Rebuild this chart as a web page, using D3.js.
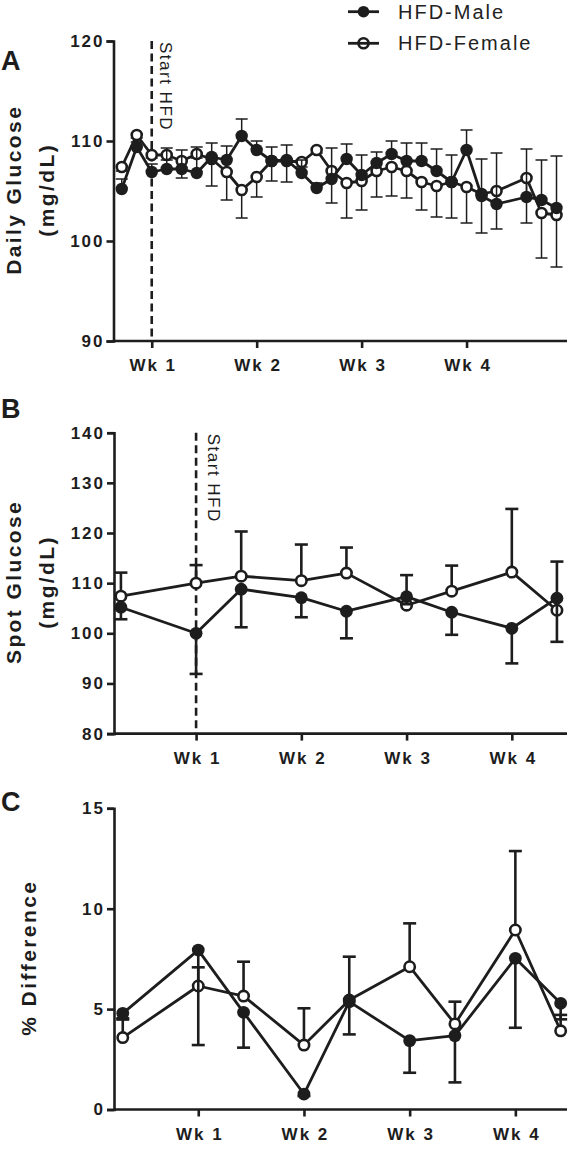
<!DOCTYPE html>
<html>
<head>
<meta charset="utf-8">
<script src="https://cdn.jsdelivr.net/npm/d3@7"></script>
<style>
html,body{margin:0;padding:0;background:#fff;}
svg{display:block;font-family:"Liberation Sans",Arial,Helvetica,sans-serif;}
</style>
</head>
<body>
<div id="chart"></div>
<script>
// ---------- DATA ----------
const weekLabels = ["Wk 1", "Wk 2", "Wk 3", "Wk 4"];
const weekDays = [0, 7, 14, 21];
const seriesNames = ["HFD-Male", "HFD-Female"];

// Panel A: daily glucose (mg/dL), day relative to start of HFD
const dailyDays = [-2,-1,0,1,2,3,4,5,6,7,8,9,10,11,12,13,14,15,16,17,18,19,20,21,22,23,25,26,27];
const maleDaily = [105.2,109.4,106.9,107.2,107.2,106.8,108.4,108.1,110.5,109.1,108.0,108.1,106.8,105.3,106.2,108.2,106.6,107.8,108.7,108.0,108.0,107.0,105.9,109.1,104.5,103.7,104.4,104.1,103.3];
const maleDailyErr = [1.0,0.5,0.8,2.1,1.9,2.6,1.4,1.4,1.7,0.9,1.4,1.5,1.3,0.5,3.1,1.5,2.0,1.1,1.3,1.8,1.8,2.2,2.7,2.0,3.7,5.1,4.8,4.0,5.2];
const femaleDaily = [107.4,110.6,108.6,108.6,108.0,108.7,108.2,106.9,105.1,106.4,108.0,108.0,107.9,109.1,107.0,105.8,106.0,107.0,107.4,107.0,105.9,105.5,105.9,105.4,104.7,105.0,106.3,102.8,102.6];
const femaleDailyErr = [0.4,0.3,0.3,0.5,1.7,0.4,2.7,2.8,2.8,2.0,2.0,2.1,0.5,0.3,3.2,3.5,2.9,2.6,2.9,2.7,2.8,3.1,3.6,3.6,3.9,3.8,4.5,4.5,5.2];

// Panel B: spot glucose (mg/dL)
const spotDays = [-5,0,3,7,10,14,17,21,24];
const maleSpot = [105.2,100.0,108.8,107.1,104.4,107.3,104.2,101.0,107.0];
const maleSpotErr = [2.4,8.1,7.6,3.9,5.4,1.5,4.5,7.0,8.7];
const femaleSpot = [107.4,110.0,111.4,110.5,112.0,105.6,108.4,112.2,104.6];
const femaleSpotErr = [4.7,3.6,8.9,7.2,5.1,6.0,5.1,12.6,9.7];

// Panel C: % difference
const maleDiff = [4.79,7.94,4.84,0.77,5.37,3.43,3.68,7.53,5.29];
const maleDiffErr = [0.25,4.73,1.76,0.1,1.63,1.6,2.33,3.46,0.8];
const femaleDiff = [3.58,6.15,5.65,3.21,5.45,7.11,4.26,8.94,3.92];
const femaleDiffErr = [0.9,0.93,1.71,1.83,2.16,2.16,1.11,3.93,0.79];

const yTicksA = [90,100,110,120];
const yTicksB = [80,90,100,110,120,130,140];
const yTicksC = [0,5,10,15];

// ---------- DRAW ----------
const W = 570, H = 1149;
const ink = "#1d1d1d";
const svg = d3.select("#chart").append("svg").attr("width", W).attr("height", H);

function panel(cfg) {
  const x = d3.scaleLinear().domain(cfg.xDomain).range(cfg.xRange);
  const y = d3.scaleLinear().domain(cfg.yDomain).range(cfg.yRange);
  const g = svg.append("g");
  const LS = 2;

  // dashed start line
  if (cfg.startLine) {
    g.append("line").attr("x1", x(0)).attr("x2", x(0))
      .attr("y1", cfg.yRange[1]).attr("y2", cfg.yRange[0])
      .attr("stroke", ink).attr("stroke-width", 2.6).attr("stroke-dasharray", "8,4.5");
    g.append("text").text("Start HFD")
      .attr("transform", `translate(${x(0) + cfg.startOffset},${cfg.yRange[1] + 1}) rotate(90)`)
      .attr("font-size", 17).attr("fill", ink).style("letter-spacing", "1.5px");
  }

  // y axis
  const yAxis = d3.axisLeft(y).tickValues(cfg.yTicks).tickSize(7).tickPadding(4).tickFormat(d3.format("d"));
  const ya = g.append("g").attr("transform", `translate(${cfg.xRange[0]},0)`).call(yAxis);
  ya.select(".domain").attr("stroke", ink).attr("stroke-width", 2.6);
  ya.selectAll(".tick line").attr("stroke", ink).attr("stroke-width", 2.6);
  ya.selectAll(".tick text").attr("font-size", 17).attr("font-weight", "bold").attr("fill", ink)
    .attr("font-family", '"Liberation Sans",Arial,sans-serif')
    .style("letter-spacing", LS + "px").attr("dx", LS);

  // x axis
  const xAxis = d3.axisBottom(x).tickValues(weekDays).tickSize(7).tickPadding(11)
    .tickFormat((d, i) => weekLabels[i]);
  const xa = g.append("g").attr("transform", `translate(0,${cfg.yRange[0]})`).call(xAxis);
  xa.select(".domain").attr("stroke", ink).attr("stroke-width", 2.6).attr("d", `M${cfg.xRange[0]},0H${cfg.xRange[1]}`);
  xa.selectAll(".tick line").attr("stroke", ink).attr("stroke-width", 2.6);
  xa.selectAll(".tick text").attr("font-size", 17).attr("font-weight", "bold").attr("fill", ink)
    .attr("font-family", '"Liberation Sans",Arial,sans-serif')
    .style("letter-spacing", LS + "px").attr("dx", LS / 2);

  // panel letter
  g.append("text").text(cfg.letter).attr("x", 1).attr("y", cfg.letterY)
    .attr("font-size", 27).attr("font-weight", "bold").attr("fill", ink);

  // y label
  const cy = (cfg.yRange[0] + cfg.yRange[1]) / 2;
  cfg.yLabel.forEach((line, i) => {
    g.append("text").text(line)
      .attr("transform", `translate(${cfg.yLabelX[i]},${cy}) rotate(-90)`)
      .attr("text-anchor", "middle").attr("font-size", 21).attr("font-weight", "bold").attr("fill", ink)
      .style("letter-spacing", "2.4px").attr("dx", 1.2);
  });

  // series: female first, male on top
  const series = [
    {vals: cfg.female, err: cfg.femaleErr, dir: cfg.femaleDir, open: true},
    {vals: cfg.male, err: cfg.maleErr, dir: cfg.maleDir, open: false}
  ];
  const line = d3.line().x(d => x(d.x)).y(d => y(d.y));
  series.forEach(s => {
    const pts = cfg.days.map((d, i) => ({x: d, y: s.vals[i], e: s.err[i]}));
    const eg = g.append("g");
    pts.forEach(p => {
      const end = p.y + s.dir * p.e;
      eg.append("line").attr("x1", x(p.x)).attr("x2", x(p.x)).attr("y1", y(p.y)).attr("y2", y(end))
        .attr("stroke", ink).attr("stroke-width", cfg.errW);
      eg.append("line").attr("x1", x(p.x) - cfg.cap).attr("x2", x(p.x) + cfg.cap)
        .attr("y1", y(end)).attr("y2", y(end)).attr("stroke", ink).attr("stroke-width", cfg.errW);
    });
    g.append("path").datum(pts).attr("d", line).attr("fill", "none")
      .attr("stroke", ink).attr("stroke-width", 2.8).attr("stroke-linejoin", "round");
    g.append("g").selectAll("circle").data(pts).join("circle")
      .attr("cx", p => x(p.x)).attr("cy", p => y(p.y))
      .attr("r", s.open ? cfg.r - 1.2 : cfg.r)
      .attr("fill", s.open ? "#fff" : ink)
      .attr("stroke", ink).attr("stroke-width", s.open ? 2.6 : 0);
  });
}

panel({
  letter: "A", letterY: 70,
  xDomain: [-2.55, 27.7], xRange: [113.5, 567],
  yDomain: [90, 120], yRange: [341, 41], yTicks: yTicksA,
  yLabel: ["Daily Glucose", "(mg/dL)"], yLabelX: [21, 54],
  days: dailyDays, male: maleDaily, maleErr: maleDailyErr, female: femaleDaily, femaleErr: femaleDailyErr,
  maleDir: 1, femaleDir: -1, errW: 1.5, cap: 6, r: 6.2,
  startLine: true, startOffset: 8
});
panel({
  letter: "B", letterY: 418,
  xDomain: [-5.46, 24.67], xRange: [114, 567],
  yDomain: [80, 140], yRange: [733.6, 432.7], yTicks: yTicksB,
  yLabel: ["Spot Glucose", "(mg/dL)"], yLabelX: [21, 54],
  days: spotDays, male: maleSpot, maleErr: maleSpotErr, female: femaleSpot, femaleErr: femaleSpotErr,
  maleDir: -1, femaleDir: 1, errW: 2.6, cap: 6.5, r: 6.4,
  startLine: true, startOffset: 12
});
panel({
  letter: "C", letterY: 811,
  xDomain: [-5.58, 24.42], xRange: [114, 567],
  yDomain: [0, 15], yRange: [1109.5, 808.3], yTicks: yTicksC,
  yLabel: ["% Difference"], yLabelX: [36],
  days: spotDays, male: maleDiff, maleErr: maleDiffErr, female: femaleDiff, femaleErr: femaleDiffErr,
  maleDir: -1, femaleDir: 1, errW: 2.6, cap: 6.5, r: 6.4,
  startLine: false
});

// legend
const leg = svg.append("g");
[11.7, 43.3].forEach((ly, i) => {
  leg.append("line").attr("x1", 348).attr("x2", 379).attr("y1", ly).attr("y2", ly)
    .attr("stroke", ink).attr("stroke-width", 2.8);
  leg.append("circle").attr("cx", 363.5).attr("cy", ly).attr("r", i === 0 ? 5.8 : 5)
    .attr("fill", i === 0 ? ink : "none").attr("stroke", ink).attr("stroke-width", i === 0 ? 0 : 2.6);
  leg.append("text").text(seriesNames[i]).attr("x", 398).attr("y", ly + 7)
    .attr("font-size", 20).attr("fill", "#222").style("letter-spacing", "2px");
});
</script>
</body>
</html>
